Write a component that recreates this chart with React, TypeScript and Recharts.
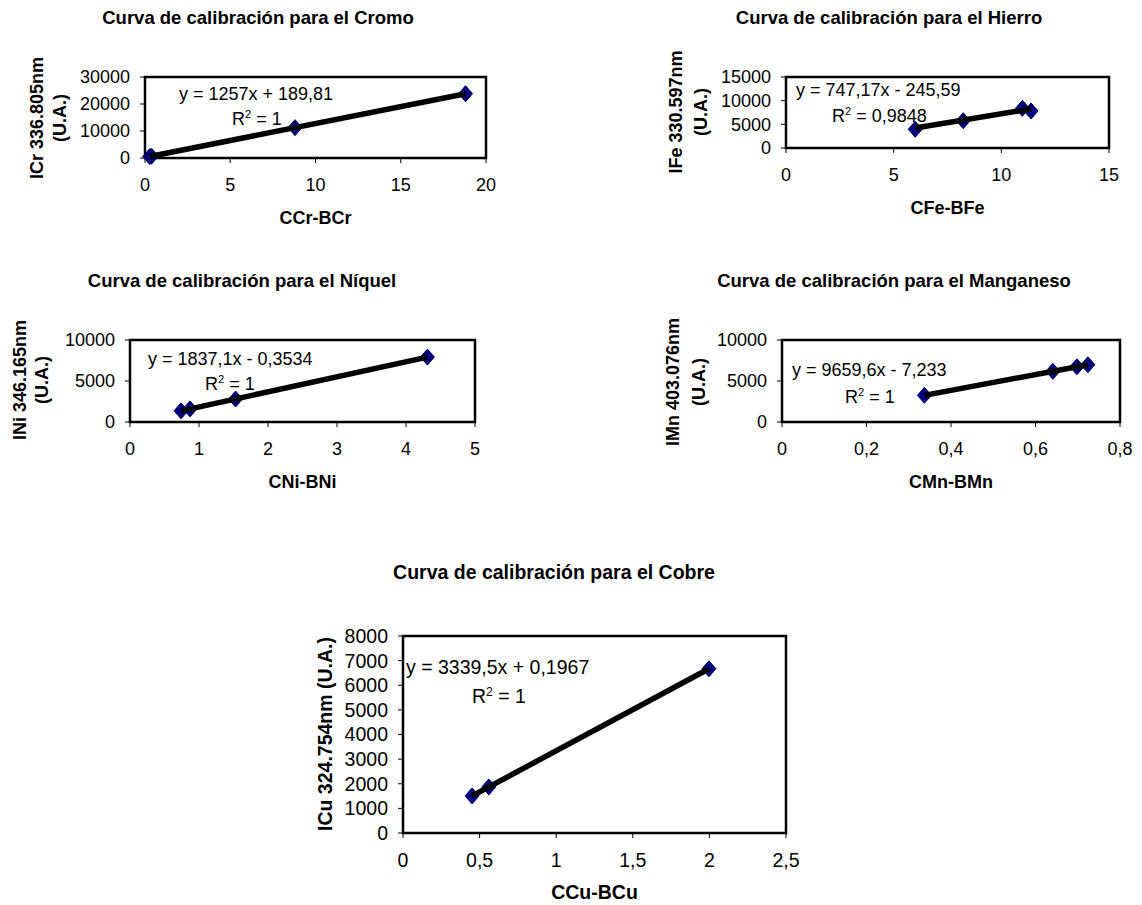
import React from 'react';
import { ScatterChart, Scatter, XAxis, YAxis, ReferenceArea } from 'recharts';

const FONT = '"Liberation Sans", Arial, sans-serif';

// calibration points (concentration difference vs. intensity)
const cromoPoints = [
  { x: 0.28, y: 540 },
  { x: 0.38, y: 670 },
  { x: 8.8, y: 11250 },
  { x: 18.8, y: 23820 },
];
const hierroPoints = [
  { x: 6.0, y: 3950 },
  { x: 8.23, y: 5770 },
  { x: 10.98, y: 8380 },
  { x: 11.38, y: 7820 },
];
const niquelPoints = [
  { x: 0.74, y: 1360 },
  { x: 0.87, y: 1600 },
  { x: 1.53, y: 2800 },
  { x: 4.31, y: 7920 },
];
const manganesoPoints = [
  { x: 0.337, y: 3250 },
  { x: 0.641, y: 6185 },
  { x: 0.698, y: 6735 },
  { x: 0.724, y: 6985 },
];
const cobrePoints = [
  { x: 0.451, y: 1506 },
  { x: 0.56, y: 1870 },
  { x: 1.997, y: 6670 },
];

// trendline coefficients as printed on the charts
const cromoFit = { slope: 1257, intercept: 189.81 };
const hierroFit = { slope: 747.17, intercept: -245.59 };
const niquelFit = { slope: 1837.1, intercept: -0.3534 };
const manganesoFit = { slope: 9659.6, intercept: -7.233 };
const cobreFit = { slope: 3339.5, intercept: 0.1967 };

// axis ticks
const cromoXTicks = [0, 5, 10, 15, 20];
const cromoYTicks = [0, 10000, 20000, 30000];
const hierroXTicks = [0, 5, 10, 15];
const hierroYTicks = [0, 5000, 10000, 15000];
const niquelXTicks = [0, 1, 2, 3, 4, 5];
const niquelYTicks = [0, 5000, 10000];
const manganesoXTicks = [0, 0.2, 0.4, 0.6, 0.8];
const manganesoYTicks = [0, 5000, 10000];
const cobreXTicks = [0, 0.5, 1, 1.5, 2, 2.5];
const cobreYTicks = [0, 1000, 2000, 3000, 4000, 5000, 6000, 7000, 8000];

type Pt = { x: number; y: number };
type Cfg = {
  id: string;
  title: string;
  xLabel: string;
  yLabel: string[];
  points: Pt[];
  fit: { slope: number; intercept: number };
  xTicks: number[];
  yTicks: number[];
  eq: string;
  r2: string;
  plot: { x0: number; x1: number; y0: number; y1: number };
  titleAt: [number, number];
  eqAt: [number, number];
  r2At: [number, number];
  yLabelX: number[];
  yLabelCy: number;
  xLabelDy: number;
  fs: number;
  titleFs: number;
};

const charts: Cfg[] = [
  {
    id: 'cr', title: 'Curva de calibración para el Cromo', xLabel: 'CCr-BCr',
    yLabel: ['ICr 336.805nm', '(U.A.)'], points: cromoPoints, fit: cromoFit,
    xTicks: cromoXTicks, yTicks: cromoYTicks, eq: 'y = 1257x + 189,81', r2: '1',
    plot: { x0: 145, x1: 486, y0: 77, y1: 158 }, titleAt: [258, 24],
    eqAt: [179, 100], r2At: [232, 125], yLabelX: [43, 66], yLabelCy: 118, xLabelDy: 66,
    fs: 18, titleFs: 18.5,
  },
  {
    id: 'fe', title: 'Curva de calibración para el Hierro', xLabel: 'CFe-BFe',
    yLabel: ['IFe 330.597nm', '(U.A.)'], points: hierroPoints, fit: hierroFit,
    xTicks: hierroXTicks, yTicks: hierroYTicks, eq: 'y = 747,17x - 245,59', r2: '0,9848',
    plot: { x0: 786, x1: 1109, y0: 77, y1: 148 }, titleAt: [889, 24],
    eqAt: [796, 96], r2At: [832, 122], yLabelX: [682, 707], yLabelCy: 112, xLabelDy: 66,
    fs: 18, titleFs: 18.5,
  },
  {
    id: 'ni', title: 'Curva de calibración para el Níquel', xLabel: 'CNi-BNi',
    yLabel: ['INi 346.165nm', '(U.A.)'], points: niquelPoints, fit: niquelFit,
    xTicks: niquelXTicks, yTicks: niquelYTicks, eq: 'y = 1837,1x - 0,3534', r2: '1',
    plot: { x0: 130, x1: 475, y0: 340, y1: 422 }, titleAt: [242, 287],
    eqAt: [148, 365], r2At: [205, 390], yLabelX: [26, 48], yLabelCy: 380, xLabelDy: 66,
    fs: 18, titleFs: 18.5,
  },
  {
    id: 'mn', title: 'Curva de calibración para el Manganeso', xLabel: 'CMn-BMn',
    yLabel: ['IMn 403.076nm', '(U.A.)'], points: manganesoPoints, fit: manganesoFit,
    xTicks: manganesoXTicks, yTicks: manganesoYTicks, eq: 'y = 9659,6x - 7,233', r2: '1',
    plot: { x0: 782, x1: 1120, y0: 340, y1: 422 }, titleAt: [894, 287],
    eqAt: [792, 376], r2At: [845, 403], yLabelX: [679, 705], yLabelCy: 382, xLabelDy: 66,
    fs: 18, titleFs: 18.5,
  },
  {
    id: 'cu', title: 'Curva de calibración para el Cobre', xLabel: 'CCu-BCu',
    yLabel: ['ICu 324.754nm (U.A.)'], points: cobrePoints, fit: cobreFit,
    xTicks: cobreXTicks, yTicks: cobreYTicks, eq: 'y = 3339,5x + 0,1967', r2: '1',
    plot: { x0: 403, x1: 786, y0: 636, y1: 833 }, titleAt: [554, 579],
    eqAt: [406, 674], r2At: [472, 703], yLabelX: [332], yLabelCy: 734, xLabelDy: 66,
    fs: 19.5, titleFs: 19.5,
  },
];

const fmt = (v: number) => String(v).replace('.', ',');

// trendline spans the range of the measured points
const trendLine = (pts: Pt[], fit: { slope: number; intercept: number }) => {
  const xs = pts.map((p) => p.x);
  const lo = Math.min(...xs);
  const hi = Math.max(...xs);
  return [
    { x: lo, y: fit.slope * lo + fit.intercept },
    { x: hi, y: fit.slope * hi + fit.intercept },
  ];
};

const Diamond = (props: any) => {
  const { cx, cy } = props;
  if (cx == null || cy == null) return <g />;
  return (
    <polygon
      points={`${cx},${cy - 8} ${cx + 7},${cy} ${cx},${cy + 8} ${cx - 7},${cy}`}
      fill="#000080"
      stroke="#00005a"
      strokeWidth={1}
    />
  );
};

const CalChart = ({ c }: { c: Cfg }) => {
  const { x0, x1, y0, y1 } = c.plot;
  const xMax = c.xTicks[c.xTicks.length - 1];
  const yMax = c.yTicks[c.yTicks.length - 1];
  const tick = { fill: '#000', fontSize: c.fs, fontFamily: FONT };
  return (
    <div style={{ position: 'absolute', left: x0 - 150, top: y0 - 80 }}>
      <ScatterChart
        width={x1 - x0 + 190}
        height={y1 - y0 + 160}
        margin={{ top: 80, right: 40, bottom: 50, left: 0 }}
      >
        <XAxis
          type="number"
          dataKey="x"
          domain={[0, xMax]}
          ticks={c.xTicks}
          interval={0}
          tickFormatter={fmt}
          height={30}
          axisLine={{ stroke: '#000', strokeWidth: 2 }}
          tickLine={{ stroke: '#000' }}
          tickSize={5}
          tickMargin={15}
          tick={tick}
        />
        <YAxis
          type="number"
          dataKey="y"
          domain={[0, yMax]}
          ticks={c.yTicks}
          interval={0}
          width={150}
          axisLine={{ stroke: '#000', strokeWidth: 2 }}
          tickLine={{ stroke: '#000' }}
          tickSize={5}
          tickMargin={10}
          tick={tick}
        />
        <ReferenceArea x1={0} x2={xMax} y1={0} y2={yMax} fill="none" stroke="#000" strokeWidth={2.5} />
        <Scatter data={c.points} shape={<Diamond />} isAnimationActive={false} />
        <Scatter
          data={trendLine(c.points, c.fit)}
          line={{ stroke: '#000', strokeWidth: 5.5 }}
          shape={() => <g />}
          isAnimationActive={false}
        />
      </ScatterChart>
    </div>
  );
};

export default function App() {
  return (
    <div style={{ position: 'absolute', left: 0, top: 0, width: 1142, height: 905, background: '#fff', overflow: 'hidden' }}>
      {charts.map((c) => (
        <CalChart key={c.id} c={c} />
      ))}
      <svg
        width={1142}
        height={905}
        style={{ position: 'absolute', left: 0, top: 0, pointerEvents: 'none' }}
        fontFamily={FONT}
        fill="#000"
      >
        {charts.map((c) => (
          <g key={c.id}>
            <text x={c.titleAt[0]} y={c.titleAt[1]} textAnchor="middle" fontWeight="bold" fontSize={c.titleFs}>
              {c.title}
            </text>
            <text
              x={(c.plot.x0 + c.plot.x1) / 2}
              y={c.plot.y1 + c.xLabelDy}
              textAnchor="middle"
              fontWeight="bold"
              fontSize={c.fs}
            >
              {c.xLabel}
            </text>
            {c.yLabel.map((line, i) => (
              <text
                key={i}
                transform={`translate(${c.yLabelX[i]},${c.yLabelCy}) rotate(-90)`}
                textAnchor="middle"
                fontWeight="bold"
                fontSize={c.fs}
              >
                {line}
              </text>
            ))}
            <text x={c.eqAt[0]} y={c.eqAt[1]} fontSize={c.fs}>
              {c.eq}
            </text>
            <text x={c.r2At[0]} y={c.r2At[1]} fontSize={c.fs}>
              R
              <tspan dy={-7} fontSize={c.fs * 0.62}>2</tspan>
              <tspan dy={7}>{` = ${c.r2}`}</tspan>
            </text>
          </g>
        ))}
      </svg>
    </div>
  );
}
